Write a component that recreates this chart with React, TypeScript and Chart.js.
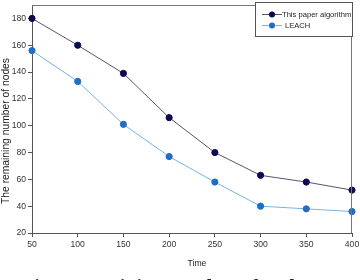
import React, { useEffect, useRef } from "react";
import { Chart, registerables } from "chart.js";

Chart.register(...registerables);

const times = [50, 100, 150, 200, 250, 300, 350, 400];
const thisPaper = [180, 160, 139, 106, 80, 63, 58, 52];
const leach = [156, 133, 101, 77, 58, 40, 38, 36];
const seriesNames = ["This paper algorithm", "LEACH"];
const xTitle = "Time";
const yTitle = "The remaining number of nodes";
const caption = "Fig.3 Remaining number of nodes";

const C1_LINE = "#595270";
const C1_PT = "#0c0b52";
const C2_LINE = "#74b4e2";
const C2_PT = "#1f6dc4";
const AXIS = "#555555";
const FONT = "'Liberation Sans', Arial, sans-serif";

const overlay = {
  id: "overlay",
  afterDraw(chart: any) {
    const { ctx, chartArea: a } = chart;
    ctx.save();
    // top and right frame
    ctx.strokeStyle = "#777777";
    ctx.lineWidth = 1;
    ctx.beginPath();
    ctx.moveTo(a.left, a.top + 0.5);
    ctx.lineTo(a.right - 0.5, a.top + 0.5);
    ctx.lineTo(a.right - 0.5, a.bottom);
    ctx.stroke();

    // legend
    const lx = 255.5, ly = 2.5, lw = 97, lh = 34;
    ctx.fillStyle = "#ffffff";
    ctx.fillRect(lx, ly, lw, lh);
    ctx.strokeStyle = "#555555";
    ctx.strokeRect(lx, ly, lw, lh);
    const items = [
      { name: seriesNames[0], line: C1_LINE, pt: C1_PT, y: 14, tx: 282 },
      { name: seriesNames[1], line: C2_LINE, pt: C2_PT, y: 25, tx: 285 },
    ];
    ctx.font = `7.6px ${FONT}`;
    ctx.textBaseline = "middle";
    ctx.textAlign = "left";
    for (const it of items) {
      ctx.strokeStyle = it.line;
      ctx.beginPath();
      ctx.moveTo(262, it.y + 0.5);
      ctx.lineTo(282, it.y + 0.5);
      ctx.stroke();
      ctx.fillStyle = it.pt;
      ctx.beginPath();
      ctx.arc(272, it.y + 0.5, 3, 0, Math.PI * 2);
      ctx.fill();
      ctx.fillStyle = "#222222";
      ctx.fillText(it.name, it.tx, it.y + 0.5);
    }

    // axis titles
    ctx.fillStyle = "#222222";
    ctx.font = `8.6px ${FONT}`;
    ctx.textAlign = "center";
    ctx.textBaseline = "middle";
    ctx.fillText(xTitle, 197, 264);
    ctx.save();
    ctx.translate(6, 131);
    ctx.rotate(-Math.PI / 2);
    ctx.font = `10.3px ${FONT}`;
    ctx.fillText(yTitle, 0, 0);
    ctx.restore();

    // clipped figure caption
    ctx.font = "bold 20px 'Liberation Serif', 'Times New Roman', serif";
    ctx.textAlign = "left";
    ctx.textBaseline = "alphabetic";
    ctx.fillStyle = "#222222";
    ctx.fillText(caption, 22, 294);
    ctx.restore();
  },
};

export default function App() {
  const ref = useRef<HTMLCanvasElement>(null);
  useEffect(() => {
    if (!ref.current) return;
    const chart = new Chart(ref.current, {
      type: "line",
      data: {
        datasets: [
          {
            label: seriesNames[0],
            data: times.map((t, i) => ({ x: t, y: thisPaper[i] })),
            borderColor: C1_LINE,
            backgroundColor: C1_PT,
            pointBackgroundColor: C1_PT,
            pointBorderColor: C1_PT,
            pointRadius: 3.1,
            borderWidth: 1,
            tension: 0,
            clip: false as any,
          },
          {
            label: seriesNames[1],
            data: times.map((t, i) => ({ x: t, y: leach[i] })),
            borderColor: C2_LINE,
            backgroundColor: C2_PT,
            pointBackgroundColor: C2_PT,
            pointBorderColor: C2_PT,
            pointRadius: 3.1,
            borderWidth: 1,
            tension: 0,
            clip: false as any,
          },
        ],
      },
      options: {
        responsive: false,
        animation: false,
        layout: { padding: { top: 1, right: 8, left: 0, bottom: 0 } },
        plugins: {
          legend: { display: false },
          tooltip: { enabled: false },
          title: { display: false },
        },
        scales: {
          x: {
            type: "linear",
            min: 50,
            max: 400,
            ticks: {
              stepSize: 50,
              color: "#333333",
              font: { size: 8.6, family: FONT },
              padding: 2,
              maxRotation: 0,
            },
            grid: { display: true, drawOnChartArea: false, tickLength: 4, color: AXIS },
            border: { color: AXIS, width: 1 },
            afterFit: (s: any) => {
              s.height = 47;
              s.paddingLeft = 0;
              s.paddingRight = 0;
            },
          },
          y: {
            type: "linear",
            min: 20,
            max: 190,
            ticks: {
              stepSize: 20,
              color: "#333333",
              font: { size: 8.6, family: FONT },
              padding: 2,
            },
            afterBuildTicks: (s: any) => {
              s.ticks = s.ticks.filter((t: any) => t.value <= 180);
            },
            grid: { display: true, drawOnChartArea: false, tickLength: 4, color: AXIS },
            border: { color: AXIS, width: 1 },
            afterFit: (s: any) => {
              s.width = 32;
              s.paddingTop = 0;
              s.paddingBottom = 0;
            },
          },
        },
      },
      plugins: [overlay],
    });
    return () => chart.destroy();
  }, []);

  return (
    <div
      style={{
        position: "fixed",
        left: 0,
        top: 0,
        width: 360,
        height: 280,
        overflow: "hidden",
        background: "#ffffff",
      }}
    >
      <canvas ref={ref} width={360} height={280} style={{ display: "block" }} />
    </div>
  );
}
